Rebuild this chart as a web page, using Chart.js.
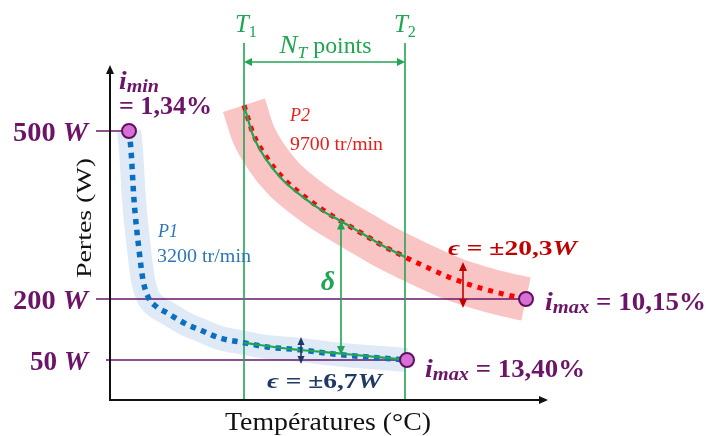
<!DOCTYPE html>
<html lang="fr">
<head>
<meta charset="utf-8">
<title>Pertes en fonction de la température</title>
<script src="https://cdn.jsdelivr.net/npm/chart.js@4.4.1/dist/chart.umd.min.js"></script>
<style>
  html, body { margin: 0; padding: 0; background: #fff; }
  canvas { display: block; }
</style>
</head>
<body>
<canvas id="chart" width="709" height="436"></canvas>
<script>
// ---------------------------------------------------------------------------
// Data
// ---------------------------------------------------------------------------

// Identification window on the temperature axis (°C): T1, T2
const tempBounds = [67, 147.5];

// P1 — 3200 tr/min : losses (W) versus temperature (°C)
const p1Temp = [9.5, 10.5, 12, 14.5, 16.5, 19, 23.5, 28.5, 33.5, 39, 45, 55, 67.5, 78.5, 95, 111.5, 130, 148.5];
const p1Loss = [500, 466, 377, 288, 234, 204, 180, 166, 151, 136, 124, 104, 92, 82, 75, 65, 57, 50];

// P2 — 9700 tr/min
const p2Temp = [67, 71.5, 78.5, 86.5, 96.5, 106.5, 116.5, 126.5, 136.5, 147.5, 160, 171.5, 185, 196.5, 208];
const p2Loss = [546, 496, 452, 416, 385, 359, 337, 316, 295, 275, 254, 236, 220, 209, 200];

// Fitted models over [T1, T2]
const fit1Temp = [67, 90, 115, 147.5];
const fit1Loss = [92, 77, 66, 51];
const fit2Temp = [67, 71.5, 78.5, 86.5, 96.5, 106.5, 116.5, 126.5, 136.5, 147.5];
const fit2Loss = [546, 492, 447, 412, 382, 357, 337, 316, 295, 275];

// Loss levels marked on the vertical axis (W)
const lossLevels = [500, 200, 50];
const lossLevelLabels = ['500', '200', '50'];

// Extreme operating points: P1 start, P2 end, P1 end
const extremeTemp = [p1Temp[0], p2Temp[p2Temp.length - 1], p1Temp[p1Temp.length - 1]];
const extremeLoss = [p1Loss[0], p2Loss[p2Loss.length - 1], p1Loss[p1Loss.length - 1]];
const extremeSub = ['min', 'max', 'max'];
const extremeRatio = ['1,34%', '10,15%', '13,40%'];

// Fitting errors and speeds
const epsP2 = '±20,3';
const epsP1 = '±6,7';
const speedP1 = '3200 tr/min';
const speedP2 = '9700 tr/min';

// ---------------------------------------------------------------------------
// Vertical axis with uneven spacing between the marked loss levels
// ---------------------------------------------------------------------------
const BREAK_W = [0, 50, 200, 500, 616];
const BREAK_F = [0, 0.1224, 0.3045, 0.806, 1];

function lossToFrac(w) {
  let i = 1;
  while (i < BREAK_W.length - 1 && w > BREAK_W[i]) i++;
  const w0 = BREAK_W[i - 1], w1 = BREAK_W[i], f0 = BREAK_F[i - 1], f1 = BREAK_F[i];
  return f0 + (w - w0) * (f1 - f0) / (w1 - w0);
}
function fracToLoss(f) {
  let i = 1;
  while (i < BREAK_F.length - 1 && f > BREAK_F[i]) i++;
  const w0 = BREAK_W[i - 1], w1 = BREAK_W[i], f0 = BREAK_F[i - 1], f1 = BREAK_F[i];
  return w0 + (f - f0) * (w1 - w0) / (f1 - f0);
}

class BrokenLinearScale extends Chart.LinearScale {
  getPixelForValue(value) { return this.getPixelForDecimal(lossToFrac(value)); }
  getValueForPixel(pixel) { return fracToLoss(this.getDecimalForPixel(pixel)); }
}
BrokenLinearScale.id = 'brokenLinear';
BrokenLinearScale.defaults = Chart.LinearScale.defaults;
Chart.register(BrokenLinearScale);

// ---------------------------------------------------------------------------
// Styles
// ---------------------------------------------------------------------------
const SERIF = '"Liberation Serif", "Times New Roman", serif';
const C = {
  purple: '#6b1468',
  markerFill: '#d670d6',
  markerEdge: '#5e125c',
  green: '#21a453',
  red: '#ff0000',
  redText: '#e81c1c',
  darkRed: '#c00000',
  blue: '#0a6fc0',
  blueText: '#2e75b6',
  navy: '#1f3864',
  pinkBand: '#f9c4c4',
  blueBand: '#dfeaf6',
  axis: '#111111'
};

const pts = (ts, ws) => ts.map((t, i) => ({ x: t, y: ws[i] }));

function font(style, size) { return `${style} ${size}px ${SERIF}`; }

// Draw a sequence of text runs, optionally stretched to a given width
function drawRuns(ctx, runs, x, y, opts) {
  const align = opts.align || 'left';
  let natural = 0;
  runs.forEach(r => { ctx.font = font(r[1], r[2]); natural += ctx.measureText(r[0]).width; });
  const k = opts.width ? opts.width / natural : 1;
  const total = natural * k;
  const x0 = align === 'center' ? x - total / 2 : align === 'right' ? x - total : x;
  ctx.save();
  ctx.translate(x0, y);
  ctx.scale(k, 1);
  ctx.fillStyle = opts.color || '#000';
  ctx.textAlign = 'left';
  ctx.textBaseline = 'alphabetic';
  let cx = 0;
  runs.forEach(r => {
    ctx.font = font(r[1], r[2]);
    ctx.fillText(r[0], cx, r[3] || 0);
    cx += ctx.measureText(r[0]).width;
  });
  ctx.restore();
}

// Straight arrow with optional filled heads at each end
function arrow(ctx, x1, y1, x2, y2, color, lw, hl, hw, heads) {
  const len = Math.hypot(x2 - x1, y2 - y1);
  const ux = (x2 - x1) / len, uy = (y2 - y1) / len;
  const sx = heads[0] ? x1 + ux * hl * 0.8 : x1, sy = heads[0] ? y1 + uy * hl * 0.8 : y1;
  const ex = heads[1] ? x2 - ux * hl * 0.8 : x2, ey = heads[1] ? y2 - uy * hl * 0.8 : y2;
  ctx.save();
  ctx.strokeStyle = color;
  ctx.fillStyle = color;
  ctx.lineWidth = lw;
  ctx.beginPath(); ctx.moveTo(sx, sy); ctx.lineTo(ex, ey); ctx.stroke();
  const head = (tx, ty, dx, dy) => {
    ctx.beginPath();
    ctx.moveTo(tx, ty);
    ctx.lineTo(tx - dx * hl - dy * hw, ty - dy * hl + dx * hw);
    ctx.lineTo(tx - dx * hl + dy * hw, ty - dy * hl - dx * hw);
    ctx.closePath();
    ctx.fill();
  };
  if (heads[0]) head(x1, y1, -ux, -uy);
  if (heads[1]) head(x2, y2, ux, uy);
  ctx.restore();
}

// ---------------------------------------------------------------------------
// Annotations: axes, arrows and labels
// ---------------------------------------------------------------------------
const annotations = {
  id: 'annotations',
  afterDatasetsDraw(chart) {
    const ctx = chart.ctx;
    const xs = chart.scales.x, ys = chart.scales.y, a = chart.chartArea;
    const X = t => xs.getPixelForValue(t);
    const Y = w => ys.getPixelForValue(w);
    const [T1, T2] = tempBounds;

    // Axes
    arrow(ctx, a.left, a.bottom, a.left, a.top - 1, C.axis, 2, 9, 4, [false, true]);
    arrow(ctx, a.left, a.bottom - 1, a.right, a.bottom - 1, C.axis, 2, 9, 4, [false, true]);

    // Axis titles
    drawRuns(ctx, [['Températures (°C)', '', 25]], X(109), Y(-35.4),
      { align: 'center', width: 206, color: C.axis });
    ctx.save();
    ctx.translate(X(-9.5), Y(344.6));
    ctx.rotate(-Math.PI / 2);
    drawRuns(ctx, [['Pertes (W)', '', 22]], 0, 0, { align: 'center', width: 120, color: C.axis });
    ctx.restore();

    // Loss level labels
    const levelWidths = [75, 75, 58];
    lossLevels.forEach((w, i) => {
      drawRuns(ctx, [[lossLevelLabels[i] + ' ', 'bold', 28], ['W', 'italic bold', 28]],
        X(-11), Y(w) + 10, { align: 'right', width: levelWidths[i], color: C.purple });
    });

    // Identification window T1 – T2
    drawRuns(ctx, [['T', 'italic', 26], ['1', '', 17, 5]], X(T1) + 2, Y(676.7),
      { align: 'center', width: 22, color: C.green });
    drawRuns(ctx, [['T', 'italic', 26], ['2', '', 17, 5]], X(T2) + 0, Y(676.7),
      { align: 'center', width: 22, color: C.green });
    drawRuns(ctx, [['N', 'italic', 26], ['T', 'italic', 17, 5], [' points', '', 23]],
      X((T1 + T2) / 2) + 1, Y(639), { align: 'center', width: 92, color: C.green });
    arrow(ctx, X(T1), Y(623), X(T2), Y(623), C.green, 1.5, 8, 4, [true, true]);

    // Series captions
    drawRuns(ctx, [['P', 'italic', 19], ['2', 'italic', 19]], X(90), Y(517.9),
      { width: 20, color: C.redText });
    drawRuns(ctx, [[speedP2, '', 18]], X(90), Y(466.1), { width: 93, color: C.redText });
    drawRuns(ctx, [['P', 'italic', 19], ['1', 'italic', 19]], X(24), Y(310.7),
      { width: 20, color: C.blueText });
    drawRuns(ctx, [[speedP1, '', 19]], X(23.5), Y(266.1), { width: 94, color: C.blueText });

    // Gap between the two loss curves
    arrow(ctx, X(115.5), Y(340), X(115.5), Y(62.3), C.green, 1.6, 9, 4, [true, true]);
    drawRuns(ctx, [['δ', 'italic bold', 28]], X(109), Y(216), { align: 'center', color: C.green });

    // Error bands
    arrow(ctx, X(176.5), Y(266), X(176.5), Y(177.9), C.darkRed, 1.6, 9, 4, [true, true]);
    drawRuns(ctx, [['ϵ', 'italic bold', 22], [' = ' + epsP2, 'bold', 22], ['W', 'italic bold', 22]],
      X(169), Y(278.6), { width: 129, color: C.darkRed });
    arrow(ctx, X(95.5), Y(106.6), X(95.5), Y(45.1), C.navy, 1.6, 8, 3.5, [true, true]);
    drawRuns(ctx, [['ϵ', 'italic bold', 22], [' = ' + epsP1, 'bold', 22], ['W', 'italic bold', 22]],
      X(78.5), Y(15.9), { width: 115, color: C.navy });

    // Current ratios at the extreme points
    drawRuns(ctx, [['i', 'italic bold', 26], [extremeSub[0], 'italic bold', 19, 3]],
      X(4.5), Y(575), { width: 40, color: C.purple });
    drawRuns(ctx, [['= ' + extremeRatio[0], 'bold', 25]], X(4.5), Y(530.4),
      { width: 93, color: C.purple });
    drawRuns(ctx, [['i', 'italic bold', 26], [extremeSub[1], 'italic bold', 19, 3],
      [' = ' + extremeRatio[1], 'bold', 25]], X(217.5), Y(173), { width: 161, color: C.purple });
    drawRuns(ctx, [['i', 'italic bold', 26], [extremeSub[2], 'italic bold', 19, 3],
      [' = ' + extremeRatio[2], 'bold', 25]], X(157.5), Y(29.3), { width: 160, color: C.purple });
  }
};

// ---------------------------------------------------------------------------
// Datasets
// ---------------------------------------------------------------------------
const curve = { pointRadius: 0, fill: false, cubicInterpolationMode: 'monotone', clip: false };
const straight = { pointRadius: 0, fill: false, tension: 0, clip: false };
const levelStart = [-7, -7, -2];

const datasets = [
  // Tolerance bands
  { ...curve, data: pts(p2Temp, p2Loss), borderColor: C.pinkBand, borderWidth: 44,
    borderCapStyle: 'butt', borderJoinStyle: 'round', order: 20 },
  { ...curve, data: pts(p1Temp, p1Loss), borderColor: C.blueBand, borderWidth: 24,
    borderCapStyle: 'butt', borderJoinStyle: 'round', order: 19 },
  // Loss level guide lines
  ...lossLevels.map((w, i) => ({
    ...straight, data: [{ x: levelStart[i], y: w }, { x: extremeTemp[i], y: w }],
    borderColor: C.purple, borderWidth: 1.5, order: 15
  })),
  // T1 / T2 bounds
  ...tempBounds.map(t => ({
    ...straight, data: [{ x: t, y: 0 }, { x: t, y: 657 }],
    borderColor: C.green, borderWidth: 1.6, order: 14
  })),
  // Measured losses
  { ...curve, data: pts(p1Temp, p1Loss), borderColor: C.blue, borderWidth: 5.5,
    borderDash: [5.5, 5.5], borderCapStyle: 'butt', order: 10 },
  { ...curve, data: pts(p2Temp, p2Loss), borderColor: C.red, borderWidth: 5,
    borderDash: [5, 6], borderCapStyle: 'butt', order: 9 },
  // Fitted models
  { ...curve, data: pts(fit1Temp, fit1Loss), borderColor: C.green, borderWidth: 2.2, order: 5 },
  { ...curve, data: pts(fit2Temp, fit2Loss), borderColor: C.green, borderWidth: 2.2, order: 5 },
  // Extreme points
  { data: pts(extremeTemp, extremeLoss), showLine: false, pointRadius: 7,
    pointBackgroundColor: C.markerFill, pointBorderColor: C.markerEdge, pointBorderWidth: 2,
    clip: false, order: 1 }
];

new Chart(document.getElementById('chart'), {
  type: 'line',
  data: { datasets },
  options: {
    responsive: false,
    animation: false,
    events: [],
    layout: { padding: { left: 110, right: 161, top: 66, bottom: 35 } },
    plugins: { legend: { display: false }, tooltip: { enabled: false } },
    scales: {
      x: { type: 'linear', display: false, min: 0, max: 219 },
      y: { type: 'brokenLinear', display: false, min: 0, max: 616 }
    }
  },
  plugins: [annotations]
});
</script>
</body>
</html>
